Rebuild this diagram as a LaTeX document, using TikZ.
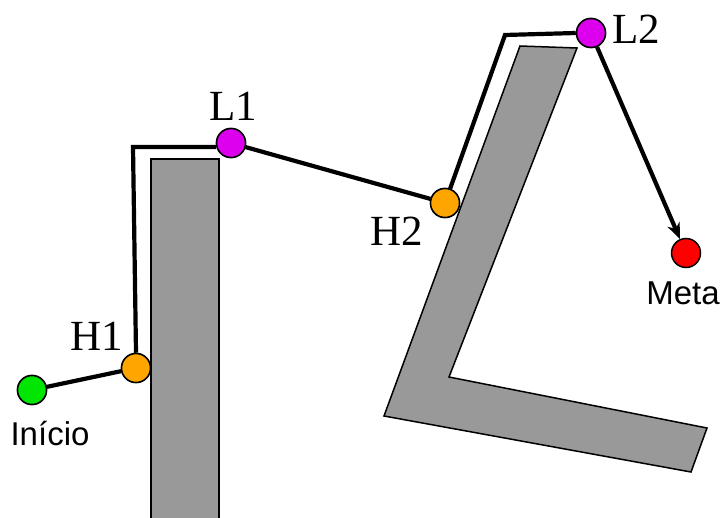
\documentclass[tikz,border=0pt]{standalone}
\usepackage{fontspec}
\setmainfont{Liberation Serif}
\newfontfamily\labsans{Liberation Sans}
\usetikzlibrary{arrows.meta}
\definecolor{obsgray}{HTML}{999999}
\definecolor{startgreen}{HTML}{00E600}
\definecolor{hitorange}{HTML}{FFA500}
\definecolor{leavemag}{HTML}{DD00EE}
\definecolor{goalred}{HTML}{FF0000}
\tikzset{
  obstacle/.style={fill=obsgray, draw=black, line width=1.5bp, line join=miter},
  pt/.style={circle, draw=black, line width=1.5bp, minimum size=29bp, inner sep=0pt},
  pathline/.style={draw=black, line width=4.2bp, line join=miter},
  serlab/.style={font=\fontsize{43bp}{50bp}\selectfont, inner sep=0pt},
  sanlab/.style={font=\labsans\fontsize{33bp}{38bp}\selectfont, inner sep=0pt}
}
\begin{document}
\begin{tikzpicture}[x=1bp, y=-1bp]
\useasboundingbox (0,0) rectangle (721,518);
\clip (0,0) rectangle (721,518);
% obstacles
\draw[obstacle] (151,159) -- (219,159) -- (219,530) -- (151,530) -- cycle;
\draw[obstacle] (520,46) -- (577,48) -- (449,377) -- (707,428) -- (691,472) -- (384,416) -- cycle;
% path corners
\coordinate (c1) at (133,147);
\coordinate (c2) at (505,35);
% points
\node[pt, fill=startgreen] (ini) at (32,390) {};
\node[pt, fill=hitorange] (h1) at (136,368) {};
\node[pt, fill=leavemag] (l1) at (231,143) {};
\node[pt, fill=hitorange] (h2) at (445,203) {};
\node[pt, fill=leavemag] (l2) at (591,33) {};
\node[pt, fill=goalred] (meta) at (686,253) {};
% path
\draw[pathline] (ini) -- (h1);
\draw[pathline] (h1.north) -- (c1) -- (l1.west |- c1);
\draw[pathline] (l1) -- (h2);
\draw[pathline] (h2) -- (c2) -- (l2.west);
\draw[pathline, -{Stealth[length=16bp,width=13bp,inset=5bp]}] (l2) -- (meta);
% redraw points above lines
\node[pt, fill=startgreen] at (ini) {};
\node[pt, fill=hitorange] at (h1) {};
\node[pt, fill=leavemag] at (l1) {};
\node[pt, fill=hitorange] at (h2) {};
\node[pt, fill=leavemag] at (l2) {};
% labels
\node[sanlab] (tini) at (50,434) {Início};
\node[sanlab] (tmeta) at (683,293) {Meta};
\node[serlab] (th1) at (97,336) {H1};
\node[serlab] (tl1) at (233,106) {L1};
\node[serlab] (th2) at (397,231) {H2};
\node[serlab] (tl2) at (636,29) {L2};
\end{tikzpicture}
\end{document}
